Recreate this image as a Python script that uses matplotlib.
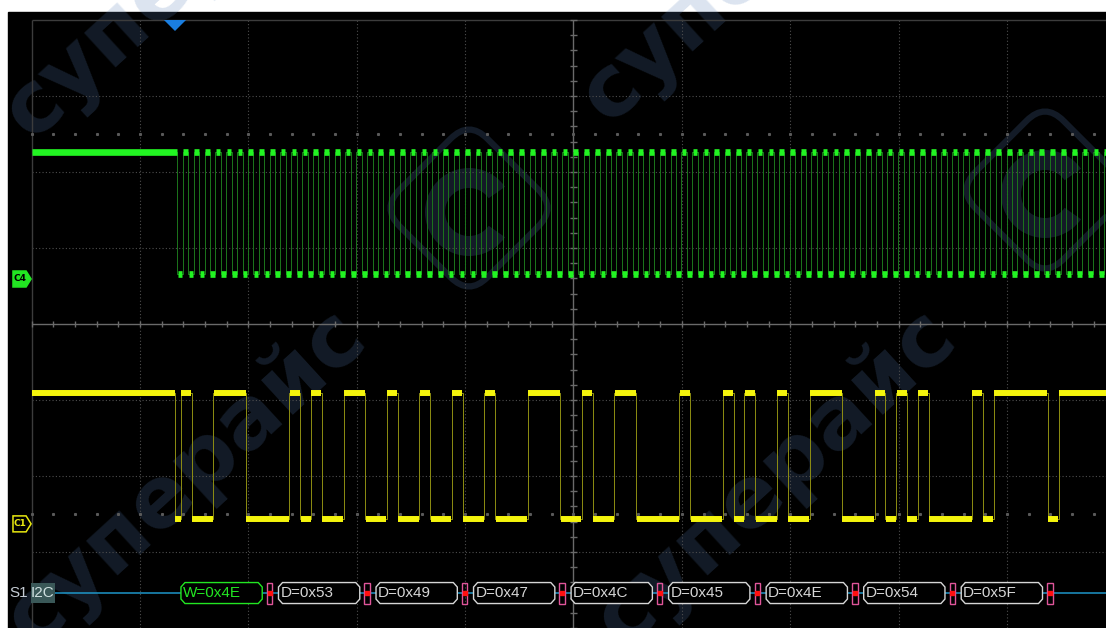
import numpy as np
import matplotlib
matplotlib.use("Agg")
import matplotlib.pyplot as plt
from matplotlib.patches import Polygon, Rectangle, FancyBboxPatch, Wedge
from matplotlib.collections import LineCollection
from matplotlib import transforms

# scope settings (time in us, vertical in divisions)
time_per_div = 100.0
volt_per_div = 2.0
t_left, t_right = -521.8, 491.4
grid_left = -500.0
y_bottom, y_top = -4.0, 4.105

# SCL (C4, green) and SDA (C1, yellow)
scl_period = 10.0
scl_first_fall = -365.4
sda_start_fall = -367.7      # trigger point = start condition
sda_bit0 = -362.2
c4_ground = 0.592
c1_ground = -2.63
c4_levels = (0.13, 3.34)     # V low / high
c1_levels = (0.13, 3.44)

# decoded I2C frames
address = 0x4E
rw_bit = 0
data_bytes = [0x53, 0x49, 0x47, 0x4C, 0x45, 0x4E, 0x54, 0x5F]
ack_bits = [0, 0, 0, 0, 0, 0, 0, 0, 0]
frame_labels = ["W=0x4E", "D=0x53", "D=0x49", "D=0x47", "D=0x4C",
                "D=0x45", "D=0x4E", "D=0x54", "D=0x5F"]
decode_row = -3.54

wm_color = "#5b81b9"
wm_alpha = 0.21


def build_wave(initial, edges):
    t = [grid_left]
    v = [initial]
    for te, lv in edges:
        if lv != v[-1]:
            t.append(te)
            v.append(lv)
    t.append(t_right)
    return t, v


def draw_trace(ax, t, v, ground, levels, bright, dim, lw):
    ys = [ground + levels[x] / volt_per_div for x in v]
    ax.plot(t, ys + [ys[-1]], drawstyle="steps-post", color=dim, lw=0.7, zorder=4)
    segs = []
    for i in range(len(v)):
        a, b = t[i] + 0.4, t[i + 1] - 0.4
        if i == 0:
            a = t[i]
        if b > a:
            segs.append([(a, ys[i]), (b, ys[i])])
    ax.add_collection(LineCollection(segs, colors=bright, linewidths=lw,
                                     capstyle="butt", zorder=5))


fig = plt.figure(figsize=(11.06, 6.28), dpi=100)
fig.patch.set_facecolor("white")

# background + watermark in pixel coordinates
bg = fig.add_axes([0, 0, 1, 1])
bg.set_xlim(0, 1106)
bg.set_ylim(628, 0)
bg.axis("off")
bg.add_patch(Rectangle((8, 12), 1098, 616, color="black", zorder=0))

for cx, cy in [(183, -30), (760, -46), (185, 478), (775, 478)]:
    bg.text(cx, cy, "суперайс", rotation=42.5, rotation_mode="anchor",
            ha="center", va="center", fontsize=62, fontweight="bold",
            family="DejaVu Sans", color=wm_color, alpha=wm_alpha, zorder=1)

for cx, cy in [(469, 208), (1045, 190)]:
    rot = transforms.Affine2D().rotate_deg_around(cx, cy, 45) + bg.transData
    bg.add_patch(FancyBboxPatch((cx - 62, cy - 62), 124, 124,
                                boxstyle="round,pad=0,rounding_size=26",
                                fc="none", ec=wm_color, lw=4.5, alpha=wm_alpha,
                                transform=rot, zorder=1))
    bg.add_patch(Wedge((cx, cy + 4), 44, 35, 325, width=20, fc=wm_color,
                       ec="none", alpha=wm_alpha, zorder=1))

# scope screen in time / division units
ax = fig.add_axes([8 / 1106, 0, 1098 / 1106, 616 / 628])
ax.set_xlim(t_left, t_right)
ax.set_ylim(y_bottom, y_top)
ax.patch.set_alpha(0)
ax.axis("off")

grid_x = [x for x in np.arange(-400, 401, time_per_div) if x != 0]
grid_y = [y for y in range(-3, 4) if y != 0]
ax.vlines(grid_x, -4, 4, colors="#4e4e4e", lw=0.8, linestyles=(0, (1, 2)), zorder=2)
ax.hlines(grid_y, grid_left, 520, colors="#4e4e4e", lw=0.8, linestyles=(0, (1, 2)), zorder=2)
ax.hlines([4], grid_left, 520, colors="#3c3c3c", lw=1.0, zorder=2)
ax.vlines([grid_left], -4, 4, colors="#3c3c3c", lw=1.0, zorder=2)
ax.hlines([0], grid_left, 520, colors="#6a6a6a", lw=1.0, zorder=2)
ax.vlines([0], -4, 4, colors="#6a6a6a", lw=1.0, zorder=2)
minor_t = np.arange(-500, 501, 20)
minor_y = np.arange(-4, 4.01, 0.2)
ax.vlines(minor_t, -0.045, 0.045, colors="#6a6a6a", lw=1.0, zorder=2)
ax.hlines(minor_y, -3.0, 3.0, colors="#6a6a6a", lw=1.0, zorder=2)
for yy in (2.5, -2.5):
    ax.plot(minor_t, [yy] * len(minor_t), "s", ms=1.2, color="#5a5a5a", zorder=2)

# SCL waveform
scl_edges = []
k = 0
while scl_first_fall + k * scl_period / 2 < t_right:
    scl_edges.append((scl_first_fall + k * scl_period / 2, 0 if k % 2 == 0 else 1))
    k += 1
t_scl, v_scl = build_wave(1, scl_edges)
draw_trace(ax, t_scl, v_scl, c4_ground, c4_levels, "#22f522", "#1c761c", 4.8)

# SDA waveform from the decoded bytes
bits = [(address >> (6 - i)) & 1 for i in range(7)] + [rw_bit, ack_bits[0]]
for n, byte in enumerate(data_bytes):
    bits += [(byte >> (7 - i)) & 1 for i in range(8)] + [ack_bits[n + 1]]
sda_edges = [(sda_start_fall, 0)]
sda_edges += [(sda_bit0 + i * scl_period, b) for i, b in enumerate(bits)]
sda_edges.append((sda_bit0 + len(bits) * scl_period, 1))
t_sda, v_sda = build_wave(1, sda_edges)
draw_trace(ax, t_sda, v_sda, c1_ground, c1_levels, "#f4f40c", "#8e8e12", 4.3)


# channel tags and trigger marker
def tag(ground, fill, text_color, label):
    pts = [(-517.2, ground - 0.105), (-517.2, ground + 0.105),
           (-505.1, ground + 0.105), (-500.5, ground), (-505.1, ground - 0.105)]
    ax.add_patch(Polygon(pts, closed=True, fc=fill, ec=text_color if fill == "black" else fill,
                         lw=1.1, zorder=6))
    ax.text(-511.0, ground, label, ha="center", va="center", fontsize=6.5,
            fontweight="bold", color=text_color, zorder=7)


tag(c4_ground, "#22e622", "black", "C4")
tag(c1_ground, "black", "#e8e810", "C1")
ax.add_patch(Polygon([(sda_start_fall - 10.2, 4.0), (sda_start_fall + 10.2, 4.0),
                      (sda_start_fall, 3.855)], closed=True, fc="#1a7ee0", ec="none", zorder=6))

# I2C decode row
h = 0.138
ax.hlines([decode_row], -478.8, 520, colors="#1e96c8", lw=1.1, zorder=3)
ax.text(-520.5, decode_row, "S1", ha="left", va="center", fontsize=11,
        family="Liberation Sans", color="#c5ccd4", zorder=7)
ax.add_patch(Rectangle((-500.9, decode_row - 0.135), 22.1, 0.27, fc="#3a5858", ec="none", zorder=6))
ax.text(-489.9, decode_row, "I2C", ha="center", va="center", fontsize=11,
        family="Liberation Sans", color="#cfe0e0", zorder=7)

cx_, cy_ = 3.7, 0.059
for k, label in enumerate(frame_labels):
    x0 = sda_bit0 + 9 * k * scl_period
    x1 = x0 + 75.0
    col = "#22e622" if label.startswith("W") else "#d6d6d6"
    pts = [(x0, decode_row - h + cy_), (x0, decode_row + h - cy_), (x0 + cx_, decode_row + h),
           (x1 - cx_, decode_row + h), (x1, decode_row + h - cy_), (x1, decode_row - h + cy_),
           (x1 - cx_, decode_row - h), (x0 + cx_, decode_row - h)]
    ax.add_patch(Polygon(pts, closed=True, fc="black", ec=col, lw=1.0, zorder=6))
    ax.text(x0 + 1.8, decode_row, label, ha="left", va="center", fontsize=11,
            family="Liberation Sans", color=col, zorder=7)
    ack_start = x0 + 8 * scl_period
    m = np.ceil((ack_start - scl_first_fall - scl_period / 2) / scl_period)
    ack_mark = scl_first_fall + scl_period / 2 + m * scl_period
    ax.add_patch(Rectangle((ack_mark - 2.5, decode_row - h), 5.0, 2 * h,
                           fc="none", ec="#e0559a", lw=1.0, zorder=6))
    ax.plot([ack_mark], [decode_row], "s", ms=2.5, color="#ff1010", zorder=7)

fig.savefig("out.png", dpi=100, facecolor="white")
